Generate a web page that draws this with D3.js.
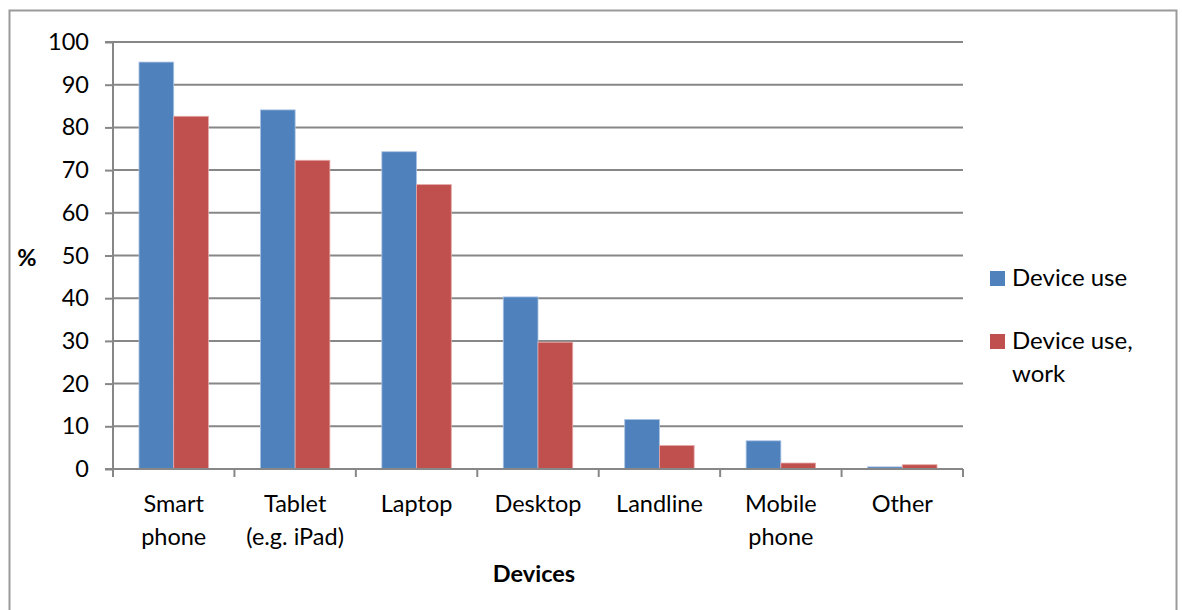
<!DOCTYPE html>
<html>
<head>
<meta charset="utf-8">
<script src="https://cdn.jsdelivr.net/npm/d3@7/dist/d3.min.js"></script>
<style>
  html, body { margin: 0; padding: 0; background: #fff; }
  svg { display: block; font-family: Lato, "Open Sans", sans-serif; }
</style>
</head>
<body>
<svg id="chart" width="1182" height="610"></svg>
<script>
// Device usage by type (%)
const categories = [["Smart", "phone"], ["Tablet", "(e.g. iPad)"], ["Laptop"], ["Desktop"], ["Landline"], ["Mobile", "phone"], ["Other"]];
const deviceUse = [95.3, 84.1, 74.3, 40.3, 11.6, 6.6, 0.5];
const deviceUseWork = [82.6, 72.3, 66.6, 29.7, 5.5, 1.4, 1.0];
const seriesNames = ["Device use", ["Device use,", "work"]];
const yTicks = [0, 10, 20, 30, 40, 50, 60, 70, 80, 90, 100];

const colors = ["#4F81BD", "#C0504D"];
const fontSize = 23.5;
const svg = d3.select("#chart");

// outer frame
svg.append("rect").attr("x", 9.5).attr("y", 10.5).attr("width", 1167).attr("height", 620)
  .attr("fill", "none").attr("stroke", "#9a9a9a").attr("stroke-width", 2);

const plotLeft = 113, plotRight = 963, plotTop = 42, plotBottom = 469;
const keys = categories.map((c, i) => i);
const x = d3.scaleBand().domain(keys).range([plotLeft, plotRight]);
const y = d3.scaleLinear().domain([0, 100]).range([plotBottom, plotTop]);

// horizontal gridlines
svg.append("g").selectAll("line").data(yTicks.filter(t => t > 0)).join("line")
  .attr("x1", plotLeft).attr("x2", plotRight)
  .attr("y1", d => y(d)).attr("y2", d => y(d))
  .attr("stroke", "#878787").attr("stroke-width", 2);

// bars
const series = [deviceUse, deviceUseWork];
const bw = x.bandwidth() * 0.286;
const off = (x.bandwidth() - 2 * bw) / 2;
series.forEach((vals, s) => {
  svg.append("g").selectAll("rect").data(vals).join("rect")
    .attr("x", (d, i) => x(i) + off + s * bw)
    .attr("y", d => y(d))
    .attr("width", bw)
    .attr("height", d => y(0) - y(d))
    .attr("fill", colors[s])
    .attr("stroke", s === 0 ? "#a9c2e3" : "#e4a9a7")
    .attr("stroke-width", 0.8);
});

// y axis
const yAxis = d3.axisLeft(y).tickValues(yTicks).tickSize(8).tickPadding(16);
const gy = svg.append("g").attr("transform", `translate(${plotLeft},0)`).call(yAxis);
gy.select(".domain").attr("stroke", "#878787").attr("stroke-width", 2).attr("d", `M-8,${plotTop}H0V${plotBottom}`);
gy.selectAll(".tick line").attr("stroke", "#878787").attr("stroke-width", 2);
gy.selectAll(".tick text").attr("font-size", fontSize).attr("fill", "#000").attr("font-family", "Lato, sans-serif");

// x axis
const gx = svg.append("g").attr("transform", `translate(0,${plotBottom})`);
gx.append("line").attr("x1", plotLeft - 8).attr("x2", plotRight).attr("y1", 0).attr("y2", 0)
  .attr("stroke", "#878787").attr("stroke-width", 2);
gx.selectAll(".xt").data(d3.range(categories.length + 1)).join("line")
  .attr("x1", i => plotLeft + i * x.bandwidth()).attr("x2", i => plotLeft + i * x.bandwidth())
  .attr("y1", 0).attr("y2", 8).attr("stroke", "#878787").attr("stroke-width", 2);

const labels = gx.selectAll(".xl").data(categories).join("text")
  .attr("text-anchor", "middle").attr("font-size", fontSize).attr("fill", "#000")
  .attr("transform", (d, i) => `translate(${x(i) + x.bandwidth() / 2},0)`);
labels.selectAll("tspan").data(d => d).join("tspan")
  .attr("x", 0).attr("y", (d, j) => 43 + j * 33).text(d => d);

// axis titles
svg.append("text").attr("x", 534).attr("y", 582).attr("text-anchor", "middle")
  .attr("font-size", fontSize).attr("font-weight", "bold").text("Devices");
svg.append("text").attr("x", 27).attr("y", 266).attr("text-anchor", "middle")
  .attr("font-size", fontSize).attr("font-weight", "bold").text("%");

// legend
const legend = svg.append("g");
const legendY = [271, 334];
seriesNames.forEach((name, s) => {
  legend.append("rect").attr("x", 990).attr("y", legendY[s]).attr("width", 15).attr("height", 15)
    .attr("fill", colors[s]);
  const lines = Array.isArray(name) ? name : [name];
  const t = legend.append("text").attr("font-size", 24).attr("fill", "#000");
  lines.forEach((ln, j) => {
    t.append("tspan").attr("x", 1012).attr("y", legendY[s] + 15 + j * 33).text(ln);
  });
});
</script>
</body>
</html>
